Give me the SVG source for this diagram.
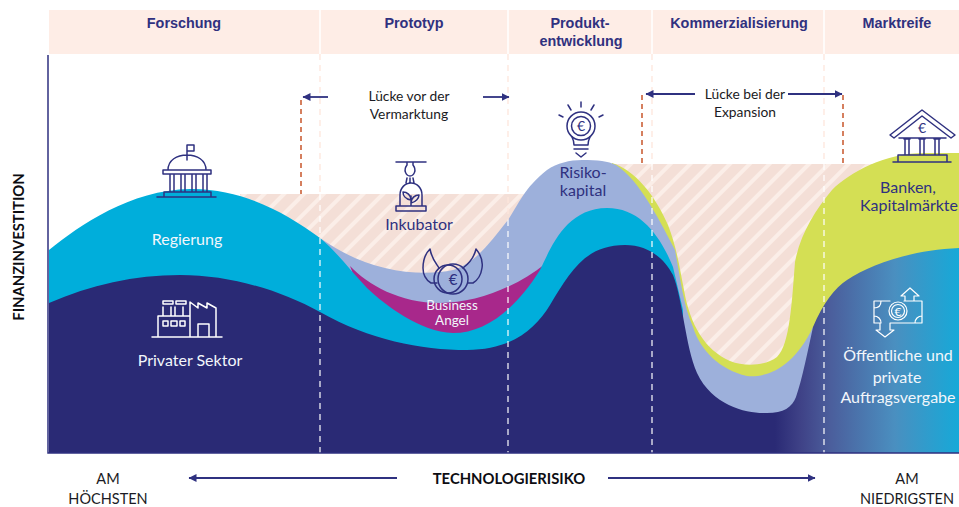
<svg xmlns="http://www.w3.org/2000/svg" width="959" height="507" viewBox="0 0 959 507">
<style>
text{font-family:"Lato","Liberation Sans",sans-serif;text-anchor:middle}
.h{font-family:"Liberation Sans",Arial,sans-serif;font-weight:700;font-size:14.4px;fill:#30317f}
.k{font-size:13.8px;fill:#1b1b24}
.b{font-size:14.5px;fill:#1b1b24}
.n{font-size:16px;fill:#2f3180}
.w{font-size:16px;fill:#f2f6fb}
.ax{font-weight:700;font-size:14.8px;fill:#0d0d12}
.ic{fill:none;stroke:#2f3180;stroke-width:1.5;stroke-linejoin:round;stroke-linecap:round}
.iw{fill:none;stroke:#fff;stroke-width:1.5;stroke-linejoin:round;stroke-linecap:round}
.or{stroke:#c8562a;stroke-width:1.5;stroke-dasharray:5 4;fill:none}
.ar{stroke:#2f3180;stroke-width:1.8;fill:none;marker-end:url(#ah)}
.sep{stroke:#fff;stroke-width:1.5;fill:none}
.dp{stroke:#fde6dc;stroke-width:1.3;stroke-dasharray:6 5;fill:none}
.dw{stroke:#fff;stroke-opacity:.85;stroke-width:1.4;stroke-dasharray:6 5;fill:none}
</style>
<defs>
<pattern id="hatch" width="14" height="14" patternUnits="userSpaceOnUse" patternTransform="rotate(45)">
<rect width="14" height="14" fill="#f4dfd7"/><rect width="4" height="14" fill="#fbeee8"/>
</pattern>
<linearGradient id="grad" gradientUnits="userSpaceOnUse" x1="775" y1="0" x2="959" y2="0">
<stop offset="0" stop-color="#2a2a75"/><stop offset=".14" stop-color="#3f4287"/><stop offset=".3" stop-color="#4b5e9c"/><stop offset=".65" stop-color="#4a8fc0"/><stop offset="1" stop-color="#16a9d8"/>
</linearGradient>
<marker id="ah" markerUnits="userSpaceOnUse" markerWidth="9" markerHeight="9" refX="7.5" refY="4" orient="auto"><path d="M0,0L8,4L0,8Z" fill="#2f3180"/></marker>
</defs>

<g id="headers">
<rect x="49" y="10" width="910" height="44" fill="#feede6"/>
<path class="sep" d="M320,10V54M508,10V54M652,10V54M824,10V54"/>
<text class="h" x="184" y="28">Forschung</text>
<text class="h" x="414" y="28">Prototyp</text>
<text class="h" x="580" y="28">Produkt-</text>
<text class="h" x="581" y="46">entwicklung</text>
<text class="h" x="739" y="28">Kommerzialisierung</text>
<text class="h" x="897" y="28">Marktreife</text>
</g>

<g id="areas">
<path id="gap" fill="url(#hatch)" d="M240,194H565V164H880V385H240Z"/>
<path id="lime" fill="#d4df54" d="M612,163C635,170 655,195 668,225C677,248 680,270 684,290C690,325 705,350 730,361C745,367 765,366 777,357C790,345 792,300 795,262C800,235 815,210 832,190C850,172 885,153 925,153L959,153V453H612Z"/>
<path id="lightblue" fill="#9db0db" d="M320,238C340,252 360,262 385,268C410,274 435,274 453,270C475,264 492,240 508,220C518,205 525,187 547,170C557,163 570,160 582,160C598,160 608,161 616,165C640,180 662,225 675,250C680,275 683,305 693,327C700,350 720,370 747,376C770,378 795,365 813,327L813,453H320Z"/>
<path id="magenta" fill="#a8288b" d="M350,266C368,285 400,303 440,303C475,303 515,288 545,264L545,345H380Z"/>
<path id="cyan" fill="#00aedb" d="M49,250C80,225 130,190 190,189C240,188 285,212 320,238C335,250 350,270 367,288C385,305 420,332 453,333C485,333 515,310 540,270C550,250 565,208 607,208C640,208 660,235 673,267L683,310V453H49Z"/>
<path id="navy" fill="#2a2a75" d="M49,303C90,285 135,275 180,275C230,275 280,290 320,312C370,340 420,350 467,350C510,350 535,330 550,305C570,272 585,245 625,245C650,245 665,260 673,275C683,300 685,345 697,373C712,405 745,413 763,413L780,453H49Z"/>
<path id="public" fill="url(#grad)" d="M813,327C823,303 835,288 847,280C870,265 910,250 959,248V453H765L763,413C782,414 792,408 796,397C802,380 808,350 813,327Z"/>
</g>

<g id="connectors">
<path class="dp" d="M320,54V194M508,54V220M652,54V164M824,54V164"/>
<path class="dw" d="M320,194V453M508,220V453M652,164V453M824,164V453"/>
<path d="M48,55V453H959" fill="none" stroke="#2f3180" stroke-width="1.5"/>
<path class="or" d="M301,100V194M642,95V163M843,95V163"/>
<path class="ar" d="M328,97H303"/>
<path class="ar" d="M483,97H509"/>
<path class="ar" d="M695,94H646"/>
<path class="ar" d="M788,94H842"/>
<path class="ar" d="M397,478H189"/>
<path class="ar" d="M608,478H815"/>
</g>

<g id="axis-labels">
<text class="ax" transform="translate(24,247) rotate(-90)">FINANZINVESTITION</text>
<text class="ax" x="509" y="484">TECHNOLOGIERISIKO</text>
<text class="b" x="108" y="484">AM</text>
<text class="b" x="108" y="504">HÖCHSTEN</text>
<text class="b" x="907" y="484">AM</text>
<text class="b" x="907" y="504">NIEDRIGSTEN</text>
</g>

<g id="gap-labels">
<text class="k" x="409" y="101">Lücke vor der</text>
<text class="k" x="409" y="119">Vermarktung</text>
<text class="k" x="745" y="99">Lücke bei der</text>
<text class="k" x="745" y="117">Expansion</text>
</g>

<g id="regierung">
<path class="ic" d="M187,160V145H194V151H187M168,170C168,160 177,155 187,155C197,155 206,160 206,170M163,170H211V174H163ZM170,175V192M174,175V192M181,175V192M185,175V192M192,175V192M196,175V192M203,175V192M207,175V192M164,192H211V197H164ZM157,197H216"/>
<text class="w" x="187" y="245">Regierung</text>
</g>

<g id="privater-sektor">
<path class="iw" d="M152,337H222M158,337V316H190M163,307V316M171,307V316M175,307V316M183,307V316M163,301H173V304H163ZM176,301H186V304H176ZM190,337V302L198,308V303L207,308V303L216,308V337M198,337V324H209V337M163,321H168V326H163ZM171,321H177V326H171ZM180,321H185V326H180Z"/>
<text class="w" x="190" y="366">Privater Sektor</text>
</g>

<g id="inkubator">
<path class="ic" d="M396,162H426M407,163V165C403,170 406,176 410,176C414,176 417,170 413,165V163M407,178L406,183M410,178V183M413,178L414,183M400,206V195C400,188 405,183 411,183C417,183 422,188 422,195V206M396,206H426V211H396ZM411,205V196M411,200C405,199 403,195 403,192C407,192 411,195 411,200M411,203C416,202 419,198 419,195C415,195 411,198 411,203"/>
<text class="n" x="419" y="230">Inkubator</text>
</g>

<g id="business-angel">
<path class="ic" d="M439,268C437,264 432,260 430,249C425,254 423,262 423,268C423,275 426,280 431,283L437,283M463,268C467,265 474,258 476,249C481,255 483,262 482,268C481,275 478,280 473,283L468,283"/>
<circle class="ic" cx="448" cy="279" r="14"/><circle class="ic" cx="453" cy="279" r="15"/>
<text x="453" y="285" style="font-size:15px;fill:#2f3180">€</text>
<text class="w" style="font-size:13.5px" x="452" y="310">Business</text>
<text class="w" style="font-size:13.5px" x="452" y="325">Angel</text>
</g>

<g id="risikokapital">
<circle class="ic" cx="581" cy="126" r="14"/><circle class="ic" cx="581" cy="126" r="9.5"/>
<path class="ic" d="M572,137C574,141 574,143 574,145H588C588,143 588,141 590,137M574,145H588M574,149H588M576,153L581,157L586,153M581,102V107M568,105L571,110M594,105L591,110M559,115L563,117M603,115L599,117"/>
<text x="581" y="131" style="font-size:14px;fill:#2f3180">€</text>
<text class="n" x="583" y="178">Risiko-</text>
<text class="n" x="583" y="196">kapital</text>
</g>

<g id="banken">
<path class="ic" d="M890,135L922,110L955,135L951,138L922,116L894,138ZM899,138H946M904,139H910M919,139H925M934,139H940M905,140V155M909,140V155M920,140V155M924,140V155M935,140V155M939,140V155M898,155H947V162H898ZM893,162H951"/>
<text x="922" y="133" style="font-size:14px;fill:#2f3180">€</text>
<text class="n" x="908" y="193">Banken,</text>
<text class="n" x="909" y="211">Kapitalmärkte</text>
</g>

<g id="auftragsvergabe">
<path class="iw" style="stroke-width:1.2" d="M904,301H922V323H890M880,323H874V301H890M874,308C878,308 881,306 881,301M922,316C918,316 915,319 915,323M874,316C878,316 881,319 881,323M905,301V296H901L910,288L919,296H914V301M880,323V330H876L885,337L894,330H890V323"/>
<circle class="iw" style="stroke-width:1.2" cx="898" cy="311" r="9"/><circle class="iw" style="stroke-width:1.2" cx="898" cy="311" r="6.5"/>
<text x="898" y="316" style="font-size:12px;fill:#fff">€</text>
<text class="w" x="898" y="361">Öffentliche und</text>
<text class="w" x="897" y="383">private</text>
<text class="w" x="898" y="403">Auftragsvergabe</text>
</g>
</svg>
